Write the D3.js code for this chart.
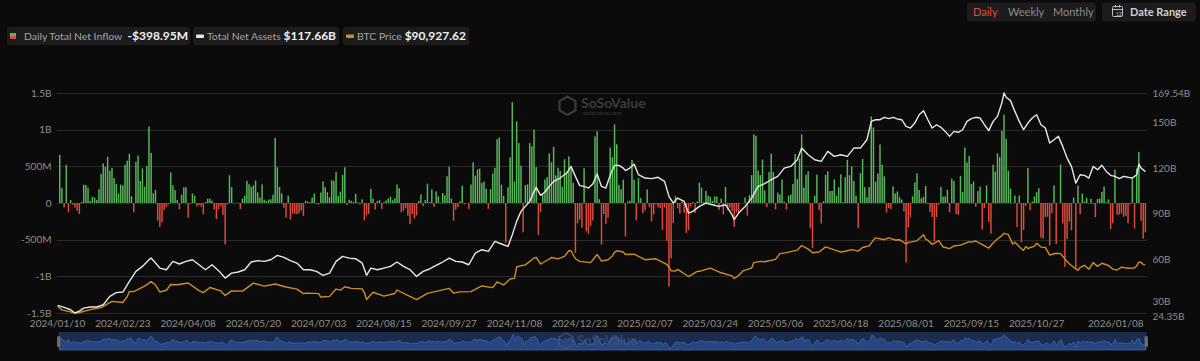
<!DOCTYPE html>
<html><head><meta charset="utf-8">
<script src="https://cdn.jsdelivr.net/npm/d3@7"></script>
<style>
html,body{margin:0;padding:0;background:#0b0b0b;}
svg{display:block;font-family:Lato,"Open Sans",sans-serif;}
</style></head><body>
<svg id="chart" width="1200" height="361"></svg>
<script>
// ---------- DATA ----------
const startDate = "2024-01-10";
const endDate = "2026-01-08";
const holidays = ["2024-01-15","2024-02-19","2024-03-29","2024-05-27","2024-06-19","2024-07-04","2024-09-02","2024-11-28","2024-12-25",
  "2025-01-01","2025-01-09","2025-01-20","2025-02-17","2025-04-18","2025-05-26","2025-06-19","2025-07-04","2025-09-01","2025-11-27","2025-12-25","2026-01-01"];
// Daily total net inflow, $M (one per trading day)
const netInflow = [
0,655,203,-60,520,-125,40,-25,-60,-105,
-150,15,250,245,210,30,85,75,40,190,
400,540,493,631,440,477,340,260,130,251,
240,520,577,673,92,-125,562,648,300,472,
223,505,1045,684,133,180,-240,-326,-262,-94,
-54,-20,418,243,179,40,-86,113,215,215,
-200,-10,130,100,-45,-30,-50,-155,15,60,
60,30,-90,-218,-85,-45,-162,-563,-20,378,
217,5,-5,5,-84,60,100,303,257,222,
241,305,145,75,252,45,27,48,49,110,
887,488,218,131,-65,-200,100,-226,-145,-146,
-152,-140,-105,-175,31,21,11,73,129,-13,
-20,143,294,216,147,78,310,301,422,100,
155,383,486,-30,44,31,15,124,10,-20,
50,-237,-168,-148,195,60,-89,28,39,-81,
11,35,62,88,39,65,252,202,-127,-105,
-71,-175,-288,-150,-212,-169,28,117,-43,39,
263,12,187,-52,158,92,4,136,106,365,
494,60,-242,-92,-55,25,235,-18,0,-81,
253,556,371,458,470,273,294,192,-79,188,
402,479,870,893,250,100,-541,215,622,1376,
294,1114,817,510,-400,245,255,816,773,1002,
490,-438,-122,120,320,353,676,556,766,376,
479,438,223,597,428,637,493,275,-680,-278,
-226,-338,475,-388,-426,-312,-240,908,978,52,
-568,-149,-284,-200,755,626,1072,802,248,188,
318,-458,20,30,588,318,-235,340,66,-140,
-100,186,-56,-251,-156,-20,-60,-70,-365,-63,
-516,-1138,-754,-275,95,-74,-143,22,-134,-409,
-371,-50,13,-135,20,275,209,11,165,100,
84,27,89,89,-93,60,-157,218,-99,-64,
-109,-326,-127,-150,1,1,76,-171,107,381,
936,917,442,380,591,173,-56,422,675,425,
-86,142,117,321,20,-90,100,115,260,668,
329,607,935,211,386,432,-346,-616,100,387,
-100,-278,25,386,431,165,165,322,100,216,
389,11,350,589,380,500,300,100,-342,407,
601,216,80,218,1180,1030,290,403,799,523,
363,-131,-68,-86,226,131,157,80,47,-114,
-812,-333,-196,91,281,404,178,65,86,231,
-14,-122,-190,-523,-194,-23,220,88,90,180,
-126,333,301,-150,-160,370,150,757,553,642,
260,292,-51,163,223,-363,-70,241,-258,-418,
522,430,676,627,985,1205,875,441,197,-4,
102,-326,102,-536,-366,-40,477,-101,20,90,
149,202,-471,-488,-191,-187,-578,-137,240,-558,
1,524,-278,-870,-492,-254,-373,75,-903,238,
-151,129,21,71,-4,58,-14,-195,54,60,
152,224,10,49,-357,-277,457,-161,-158,-142,
-189,-175,-276,-20,355,-348,471,697,-243,-486,
-399];
// Total net assets, $B (sampled by trading-day number)
const assetsDay = [0,3,6,8,10,12,15,18,21,24,27,30,33,36,39,42,43,47,50,53,56,59,62,65,68,71,74,77,80,83,86,89,92,95,98,101,104,107,110,113,116,119,122,125,128,131,134,137,140,142,144,147,150,153,156,159,162,165,168,171,174,177,180,183,186,189,192,195,198,201,204,207,209,211,213,215,217,219,220,222,224,226,228,231,234,236,238,240,242,244,246,248,250,252,254,256,258,260,261,263,265,267,270,273,276,279,281,283,285,288,290,292,295,298,301,304,307,310,311,313,316,319,322,325,328,331,334,337,340,342,345,348,351,354,357,360,363,366,369,372,374,376,378,380,382,384,386,388,390,392,394,396,398,400,402,404,406,408,410,412,414,416,418,420,422,424,426,428,430,432,434,435,436,438,440,442,444,446,448,450,452,454,456,458,460,462,464,466,468,470,472,474,476,478,480,482,484,486,488,490,492,494,496,497,498,500];
const assetsValue = [29.4,28.1,26.5,24.35,25.6,27.6,28.3,28.3,29.8,35.3,37.8,38.2,45.2,51.8,55.1,59.5,60.6,54.0,52.9,58.4,56.7,58.4,59.5,56.2,52.9,56.2,52.3,47.4,50.7,51.4,52.9,58.0,58.9,58.4,59.5,62.4,61.1,58.9,57.3,52.9,52.9,51.8,49.2,50.7,58.4,61.7,60.6,60.2,57.3,49.2,54.0,52.9,54.0,55.1,58.0,55.1,52.9,48.5,51.8,53.4,55.8,58.0,60.6,58.4,58.0,56.2,63.9,66.1,65.0,71.6,69.9,68.3,76.0,84.8,91.4,94.7,98.0,104.6,107.3,102.0,104.2,107.9,111.2,113.4,116.7,121.1,114.5,108.4,107.9,106.8,109.5,116.1,107.9,106.8,115.2,121.8,121.8,120.0,118.3,120.0,122.6,115.6,113.4,113.0,113.9,111.2,101.3,96.9,100.2,98.0,90.3,91.4,94.7,96.9,95.8,94.7,95.8,89.2,85.9,90.3,94.7,100.2,107.9,109.7,112.3,114.5,120.0,121.1,125.5,133.2,128.8,125.5,124.4,131.0,127.7,128.8,127.7,133.2,133.2,138.7,150.8,151.9,151.9,153.5,152.6,153.5,152.4,151.9,147.5,146.4,149.7,155.2,157.9,151.9,146.4,148.6,146.9,144.2,140.9,144.2,143.6,145.3,150.8,152.6,153.5,153.0,148.6,144.7,150.8,154.1,162.9,169.54,166.7,164.5,157.4,150.8,145.3,149.7,153.0,155.2,148.6,146.4,136.5,138.7,140.9,134.3,126.6,121.1,110.1,115.6,115.2,113.4,121.1,118.9,121.8,117.8,115.2,114.5,113.0,114.5,113.9,113.4,115.6,122.6,120.0,117.66];
// BTC price, $K (sampled by trading-day number)
const btcDay = [0,2,5,8,10,15,20,25,30,32,33,35,40,43,45,47,50,52,55,60,65,67,70,75,77,80,85,90,95,100,105,110,113,115,120,121,125,128,130,132,135,140,141,142,145,150,155,156,160,165,170,175,180,182,185,190,195,200,202,205,208,210,211,213,215,219,220,222,225,227,230,233,235,236,238,240,245,248,250,253,255,256,257,260,261,265,270,275,280,281,282,284,285,290,294,295,300,305,310,311,313,315,319,320,323,325,330,332,335,340,342,345,347,350,353,355,360,362,365,368,370,373,375,376,380,382,385,387,390,391,395,398,399,400,402,405,407,410,412,415,419,420,422,425,428,430,432,434,435,437,439,440,443,444,445,446,449,450,452,454,456,459,461,464,465,468,469,470,472,474,476,478,480,483,485,487,489,492,495,496,497,498,499,500];
const btcValue = [46.6,42.8,41.3,39.5,40.0,43.1,45.3,51.9,50.7,57.0,62.5,62.4,68.3,73.1,69.4,62.0,63.8,70.0,69.7,71.6,63.4,61.3,66.8,63.1,58.3,63.1,62.9,71.4,68.3,70.5,67.3,65.1,60.3,60.8,60.2,56.6,57.3,65.1,63.9,67.6,65.8,65.3,61.4,54.0,61.7,57.6,60.4,64.1,59.4,53.9,60.5,63.2,65.8,60.8,62.1,62.4,68.4,66.6,72.7,69.5,75.9,76.5,88.7,90.1,91.0,98.4,98.9,91.9,95.9,98.8,97.4,100.0,106.1,106.1,97.5,94.7,93.4,102.1,95.0,96.5,100.5,104.4,106.1,104.8,102.1,102.4,96.5,97.5,91.4,88.7,84.7,84.4,86.1,78.5,84.0,84.1,87.5,82.5,79.2,76.3,79.6,84.5,87.5,93.4,94.7,94.3,96.8,103.0,104.1,106.8,111.7,107.8,104.0,104.7,110.2,108.7,104.7,105.5,107.3,105.7,109.6,111.3,117.5,119.8,117.9,119.9,117.6,117.9,113.3,115.0,116.7,123.3,118.3,117.4,112.9,116.9,110.1,108.4,111.2,112.1,115.9,115.3,116.5,112.7,109.0,114.3,118.6,122.3,124.7,123.3,113.2,115.2,108.2,106.5,110.6,108.5,111.0,114.1,110.0,109.6,101.5,103.4,103.0,94.5,92.2,86.6,85.1,88.3,90.5,86.3,93.4,89.4,92.7,90.3,86.4,85.5,88.6,87.3,87.5,90.0,93.8,93.7,91.3,90.93];
const leftTicks = [-1500,-1000,-500,0,500,1000,1500];
const leftTickLabels = ["-1.5B","-1B","-500M","0","500M","1B","1.5B"];
const rightTicks = [24.35,30,60,90,120,150,169.54];
const rightTickLabels = ["24.35B","30B","60B","90B","120B","150B","169.54B"];
const xTickEvery = 30;
const legendItems = [
  {label:"Daily Total Net Inflow", value:"-$398.95M"},
  {label:"Total Net Assets", value:"$117.66B"},
  {label:"BTC Price", value:"$90,927.62"}];
const periodButtons = ["Daily","Weekly","Monthly"];

// ---------- CATEGORIES (trading days) ----------
const hol = new Set(holidays);
const dates = [];
{
  const fmt = d3.utcFormat("%Y-%m-%d");
  let d = new Date(startDate+"T00:00:00Z");
  const end = new Date(endDate+"T00:00:00Z");
  while (d <= end) {
    const wd = d.getUTCDay(), s = fmt(d);
    if (wd !== 0 && wd !== 6 && !hol.has(s)) dates.push(s);
    d = new Date(d.getTime() + 864e5);
  }
}
const N = dates.length;

// ---------- LAYOUT ----------
const svg = d3.select("#chart");
const W = 1200, H = 361;
const m = {left:56.5, right:1146.5, top:93, bottom:313};
const green = "#57b65a", red = "#de4a3c", white = "#e6e6e6", orange = "#cf8d27";

svg.append("rect").attr("width",W).attr("height",H).attr("fill","#0b0b0b");

const x = d3.scaleBand().domain(d3.range(N)).range([m.left, m.right]).paddingInner(0.32).paddingOuter(0.16);
const xc = i => x(i) + x.bandwidth()/2;
const yL = d3.scaleLinear().domain([-1500,1500]).range([m.bottom, m.top]);
const yR = d3.scaleLinear().domain([24.35,169.54]).range([m.bottom, m.top]);
const yB = d3.scaleLinear().domain([39.5,274.8]).range([m.bottom, m.top]);

// grid
svg.append("g").selectAll("line").data(leftTicks).join("line")
  .attr("x1", m.left).attr("x2", m.right)
  .attr("y1", d=>Math.round(yL(d))+0.5).attr("y2", d=>Math.round(yL(d))+0.5)
  .attr("stroke","#2a2a2a").attr("stroke-width",1);

// left axis labels
const yAxisL = d3.axisLeft(yL).tickValues(leftTicks).tickFormat((d,i)=>leftTickLabels[i]).tickSize(0).tickPadding(5);
const gL = svg.append("g").attr("transform",`translate(${m.left},0)`).call(yAxisL);
gL.select(".domain").remove();
gL.selectAll("text").attr("fill","#8e8e8e").attr("font-size",10).attr("font-family","Lato, sans-serif");

// right axis labels
const yAxisR = d3.axisRight(yR).tickValues(rightTicks).tickFormat((d,i)=>rightTickLabels[i]).tickSize(0).tickPadding(6);
const gR = svg.append("g").attr("transform",`translate(${m.right},0)`).call(yAxisR);
gR.select(".domain").remove();
gR.selectAll("text").attr("fill","#8e8e8e").attr("font-size",10).attr("font-family","Lato, sans-serif");
gR.selectAll(".tick").filter(d=>d===30).select("text").attr("dy","0.05em");
gR.selectAll(".tick").filter(d=>d===24.35).select("text").attr("dy","0.62em");

// watermark (plot)
const wm = svg.append("g").attr("fill","#3a3a3a");
wm.append("path").attr("d","M567.5,96.5 l8,4.6 v9.2 l-8,4.6 l-8,-4.6 v-9.2 z").attr("fill","none").attr("stroke","#3a3a3a").attr("stroke-width",2.2);
wm.append("text").attr("x",581).attr("y",108).attr("font-size",14).attr("font-weight",700).text("SoSoValue");
wm.append("text").attr("x",583).attr("y",115).attr("font-size",6).text("sosovalue.com");

// bars
svg.append("g").selectAll("rect").data(netInflow).join("rect")
  .attr("x",(d,i)=>x(i)).attr("width",x.bandwidth())
  .attr("y",d=>d>=0?yL(d):yL(0))
  .attr("height",d=>Math.abs(yL(d)-yL(0)))
  .attr("fill",d=>d>=0?green:red);

// lines
const assets = assetsDay.map((d,i)=>[d,assetsValue[i]]);
const btc = btcDay.map((d,i)=>[d,btcValue[i]]);
svg.append("path").datum(btc).attr("fill","none").attr("stroke",orange).attr("stroke-width",1.4)
  .attr("stroke-linejoin","round").attr("d",d3.line().x(d=>xc(d[0])).y(d=>yB(d[1])));
svg.append("path").datum(assets).attr("fill","none").attr("stroke",white).attr("stroke-width",1.4)
  .attr("stroke-linejoin","round").attr("d",d3.line().x(d=>xc(d[0])).y(d=>yR(d[1])));

// x axis labels
const lastIdx = N-1;
const tickIdx = d3.range(0, N, xTickEvery).filter(d => lastIdx - d > 40);
const gx = svg.append("g").attr("font-size",10).attr("fill","#8e8e8e");
gx.selectAll("text.t").data(tickIdx).join("text").attr("class","t")
  .attr("x",d=>xc(d)).attr("y",327).attr("text-anchor","middle")
  .text(d=>dates[d].replace(/-/g,"/"));
gx.append("text").attr("x",m.right-3).attr("y",327).attr("text-anchor","end").text(dates[lastIdx].replace(/-/g,"/"));

// navigator
const navTop = 332, navBot = 350;
const nav = svg.append("g");
nav.append("rect").attr("x",m.left+2).attr("y",navTop).attr("width",m.right-m.left-2).attr("height",navBot-navTop)
  .attr("fill","#1c2c4f");
const yN = d3.scaleLinear().domain(d3.extent(netInflow)).range([navBot-1, navTop+2]);
const xN = d3.scaleLinear().domain([0,N-1]).range([m.left+3, m.right-1]);
nav.append("path").datum(netInflow).attr("fill","#27457f").attr("stroke","#3d64b4").attr("stroke-width",0.8)
  .attr("d",d3.area().x((d,i)=>xN(i)).y0(navBot).y1(d=>yN(d)));
nav.append("rect").attr("x",m.left+0.5).attr("y",navTop+4).attr("width",3.5).attr("height",11).attr("rx",1.5).attr("fill","#6b6b6b");
nav.append("rect").attr("x",m.right-2).attr("y",navTop+4).attr("width",3.5).attr("height",11).attr("rx",1.5).attr("fill","#6b6b6b");
const wm2 = nav.append("g").attr("fill","#4a5878").attr("opacity",0.6);
wm2.append("path").attr("d","M566,333 l7,4 v8 l-7,4 l-7,-4 v-8 z").attr("fill","none").attr("stroke","#4a5878").attr("stroke-width",2);
wm2.append("text").attr("x",577).attr("y",345).attr("font-size",13).attr("font-weight",700).text("SoSoValue");

// legend
const lg = svg.append("g").attr("font-size",10.4);
const boxes = [{x:7,w:183},{x:193,w:146},{x:343,w:126}];
boxes.forEach(b=>{
  lg.append("rect").attr("x",b.x).attr("y",27).attr("width",b.w).attr("height",18).attr("rx",3).attr("fill","#1c1c1c");
});
lg.append("rect").attr("x",10).attr("y",33).attr("width",6).attr("height",3).attr("fill",green);
lg.append("rect").attr("x",10).attr("y",36).attr("width",6).attr("height",3).attr("fill",red);
lg.append("rect").attr("x",196).attr("y",34.5).attr("width",8).attr("height",3.5).attr("rx",1).attr("fill",white);
lg.append("rect").attr("x",346).attr("y",34.5).attr("width",8).attr("height",3.5).attr("rx",1).attr("fill",orange);
const labelX = [24,207,357];
const valueRight = [188,336,466];
legendItems.forEach((it,i)=>{
  lg.append("text").attr("x",labelX[i]).attr("y",40).attr("fill","#a3a3a3").text(it.label);
  lg.append("text").attr("x",valueRight[i]).attr("y",40).attr("text-anchor","end").attr("fill","#f0f0f0")
    .attr("font-weight",700).attr("font-size",12).text(it.value);
});

// top-right controls
const tr = svg.append("g").attr("font-size",11);
tr.append("rect").attr("x",967).attr("y",2.5).attr("width",129).attr("height",19).attr("rx",3).attr("fill","#1c1c1c");
const bx = [973,1008,1053];
periodButtons.forEach((b,i)=>{
  tr.append("text").attr("x",bx[i]).attr("y",16).attr("fill",i===0?"#e0473d":"#8a8a8a").text(b);
});
tr.append("rect").attr("x",1102).attr("y",2.5).attr("width",94).attr("height",19).attr("rx",3).attr("fill","#1c1c1c");
const cal = tr.append("g").attr("stroke","#bdbdbd").attr("fill","none").attr("stroke-width",1);
cal.append("rect").attr("x",1112.5).attr("y",6.5).attr("width",10).attr("height",10).attr("rx",1);
cal.append("line").attr("x1",1112.5).attr("x2",1122.5).attr("y1",9.5).attr("y2",9.5);
cal.append("line").attr("x1",1115.5).attr("x2",1115.5).attr("y1",5).attr("y2",7.5);
cal.append("line").attr("x1",1119.5).attr("x2",1119.5).attr("y1",5).attr("y2",7.5);
tr.append("text").attr("x",1116).attr("y",15.5).attr("font-size",5).attr("fill","#bdbdbd").text("12");
tr.append("text").attr("x",1130).attr("y",16).attr("fill","#cfcfcf").attr("font-weight",700).text("Date Range");
</script>
</body></html>
